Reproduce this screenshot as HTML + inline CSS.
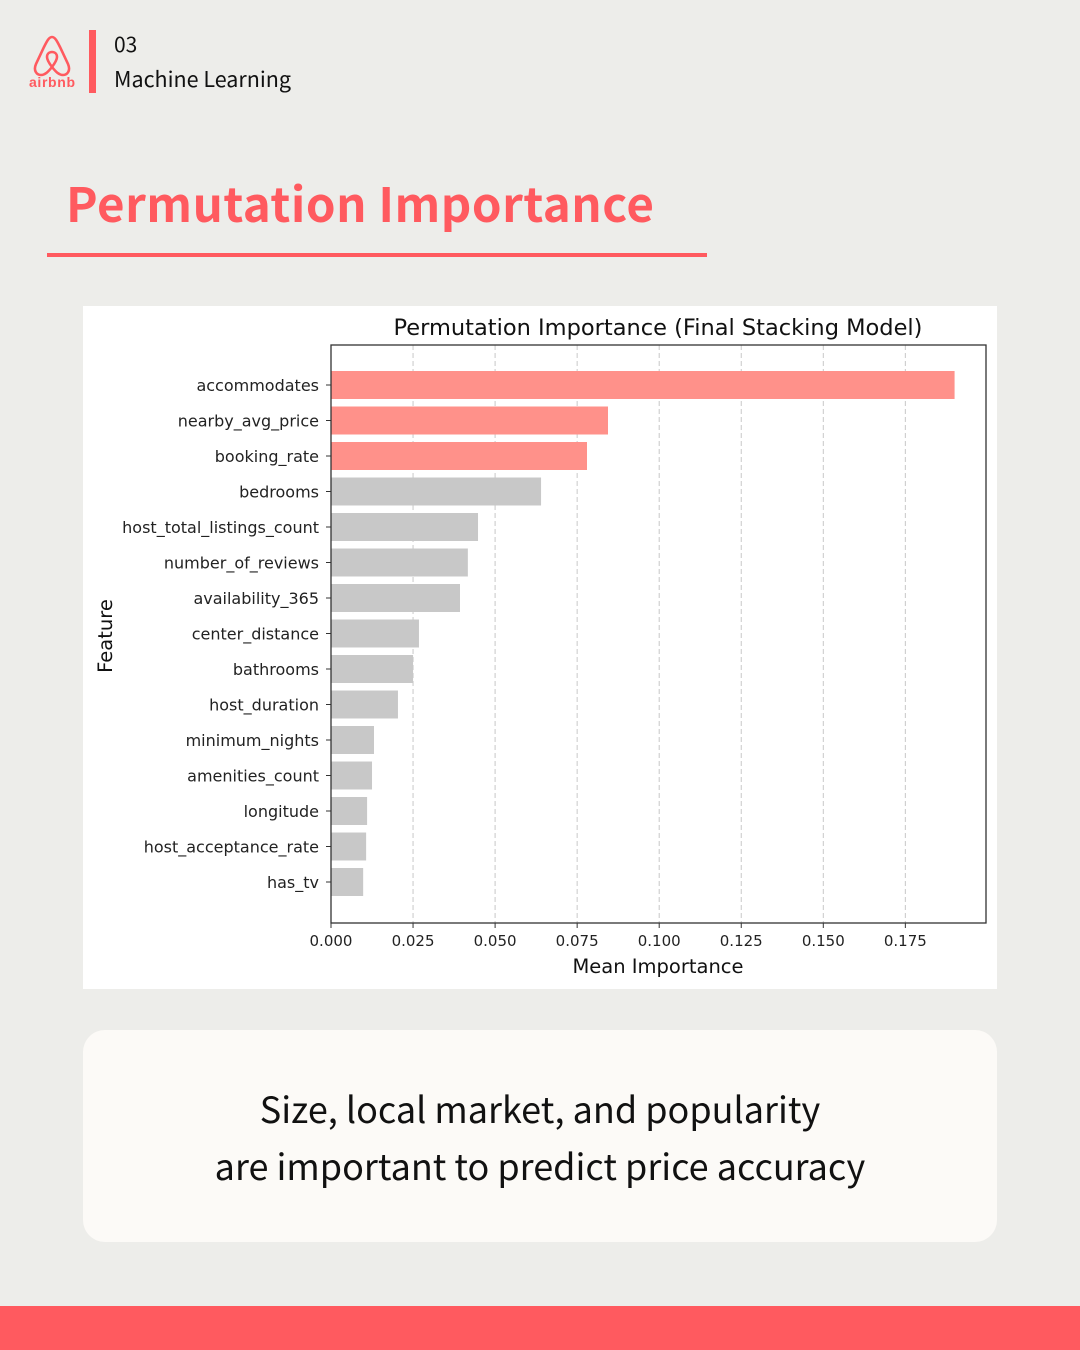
<!DOCTYPE html>
<html><head><meta charset="utf-8"><style>
body{margin:0;width:1080px;height:1350px;background:#ededea;position:relative;overflow:hidden;font-family:"Noto Sans CJK JP","Liberation Sans",sans-serif;}
.abs{position:absolute}
</style></head><body>
<svg class="abs" style="left:28px;top:34px" width="50" height="56">
<path d="M24 3 C21 3 19 7 16 13 L8 30 C5 37 9 41 13 41 C17 41 20 38 24 33 C28 38 31 41 35 41 C39 41 43 37 40 30 L32 13 C29 7 27 3 24 3 Z M24 33 C21 29 19 26 19 23 C19 20 21 18 24 18 C27 18 29 20 29 23 C29 26 27 29 24 33 Z" fill="none" stroke="#ff5a5f" stroke-width="2.6"/>
<text x="24" y="53" text-anchor="middle" font-family="Liberation Sans,sans-serif" font-size="14" font-weight="bold" fill="#ff5a5f" textLength="46">airbnb</text>
</svg>
<div class="abs" style="left:89px;top:30px;width:7px;height:63px;background:#ff5a5f"></div>
<div class="abs" style="left:114px;top:29px;font-size:21px;color:#111">03</div>
<div class="abs" style="left:114px;top:63px;font-size:21.5px;color:#111">Machine Learning</div>
<div class="abs" style="left:66px;top:167px;font-size:47.5px;font-weight:bold;color:#ff5a5f;letter-spacing:0.5px">Permutation Importance</div>
<div class="abs" style="left:47px;top:253px;width:660px;height:4px;background:#ff5a5f"></div>
<div class="abs" style="left:83px;top:306px;width:914px;height:683px;background:#fff"></div>
<svg id="chart" class="abs" style="left:0;top:0" width="1080" height="1000" font-family="DejaVu Sans,sans-serif"></svg>
<div class="abs" style="left:83px;top:1030px;width:914px;height:212px;background:#fcfaf7;border-radius:22px"></div>
<div class="abs" style="left:83px;top:1080px;width:914px;text-align:center;font-size:36px;line-height:57px;color:#111">Size, local market, and popularity<br>are important to predict price accuracy</div>
<div class="abs" style="left:0;top:1306px;width:1080px;height:44px;background:#ff5a5f"></div>
<script>
const features=["accommodates","nearby_avg_price","booking_rate","bedrooms","host_total_listings_count","number_of_reviews","availability_365","center_distance","bathrooms","host_duration","minimum_nights","amenities_count","longitude","host_acceptance_rate","has_tv"];
const importances=[0.190,0.0844,0.078,0.064,0.0448,0.0417,0.0393,0.0268,0.025,0.0204,0.0131,0.0125,0.011,0.0107,0.0098];
const highlighted=[true,true,true,false,false,false,false,false,false,false,false,false,false,false,false];
const tickValues=[0,0.025,0.05,0.075,0.1,0.125,0.15,0.175];
const tickLabels=["0.000","0.025","0.050","0.075","0.100","0.125","0.150","0.175"];
const svg=document.getElementById('chart');const NS='http://www.w3.org/2000/svg';
const L=331,R=986,T=345,B=923;
const x=v=>L+v*3282;
const y=i=>385+i*35.5;
function mk(tag,attrs,parent){const e=document.createElementNS(NS,tag);for(const k in attrs)e.setAttribute(k,attrs[k]);(parent||svg).appendChild(e);return e;}
tickValues.forEach((v,i)=>{
 if(v>0){const g=mk('line',{x1:x(v),x2:x(v),y1:T,y2:B,stroke:'#c8c8c8','stroke-dasharray':'5,3'});
 
 }
 mk('line',{x1:x(v),x2:x(v),y1:B,y2:B+5,stroke:'#333'});
 const t=mk('text',{x:x(v),y:B+23,'text-anchor':'middle','font-size':15,fill:'#222'});t.textContent=tickLabels[i];
 
 
});
features.forEach((f,i)=>{
 const r=mk('rect',{x:L,y:y(i)-14,width:x(importances[i])-L,height:28,fill:highlighted[i]?'#ff918a':'#c8c8c8'});
 
 
 mk('line',{x1:L-5,x2:L,y1:y(i),y2:y(i),stroke:'#333'});
 const t=mk('text',{x:L-12,y:y(i)+6,'text-anchor':'end','font-size':16,fill:'#222'});t.textContent=f;
 
 
});
const fr=mk('rect',{x:L,y:T,width:R-L,height:B-T,fill:'none',stroke:'#333','stroke-width':1.3});


const tt=mk('text',{x:658,y:335,'text-anchor':'middle','font-size':22.5,fill:'#111'});tt.textContent='Permutation Importance (Final Stacking Model)';


const xt=mk('text',{x:658,y:973,'text-anchor':'middle','font-size':19.5,fill:'#111'});xt.textContent='Mean Importance';


const yt=mk('text',{x:112,y:636,'text-anchor':'middle','font-size':19.5,fill:'#111',transform:'rotate(-90 112 636)'});yt.textContent='Feature';


</script>
</body></html>
